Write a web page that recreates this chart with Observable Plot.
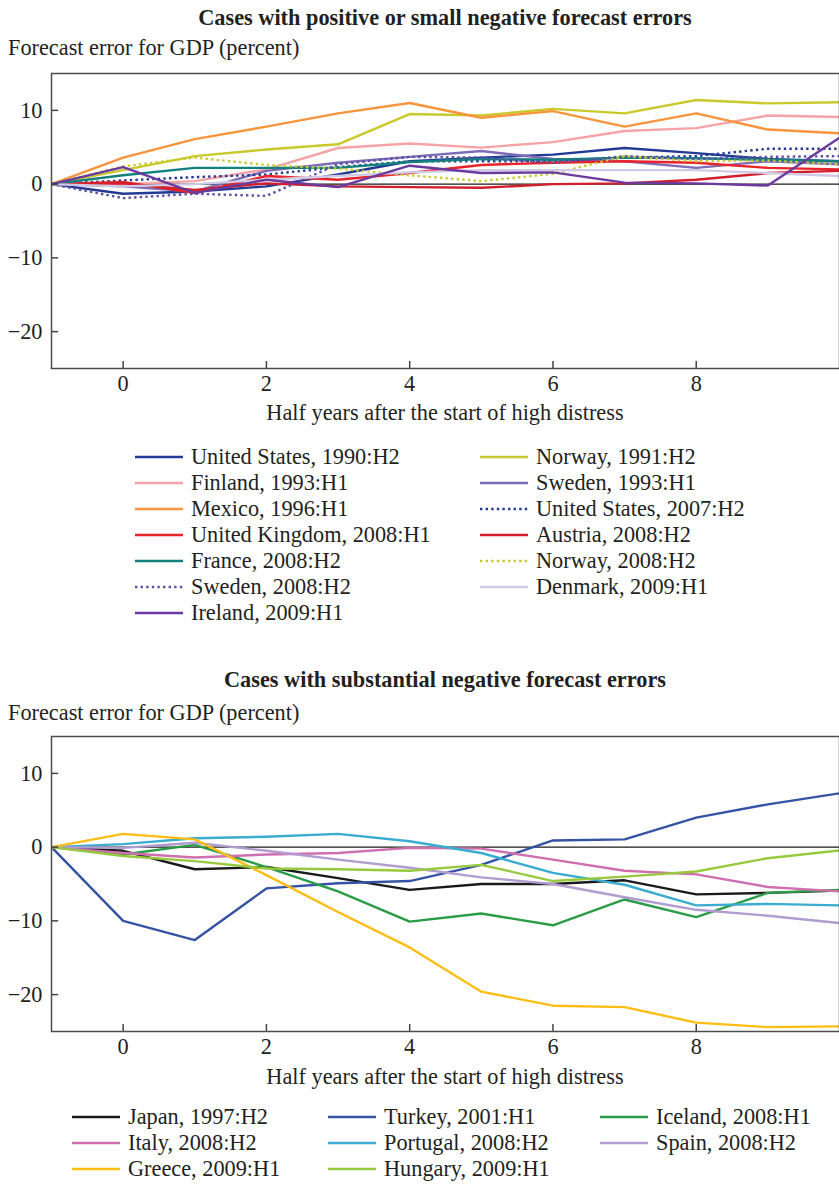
<!DOCTYPE html>
<html><head><meta charset="utf-8">
<script src="https://cdn.jsdelivr.net/npm/d3@7"></script>
<script src="https://cdn.jsdelivr.net/npm/@observablehq/plot@0.6"></script>
<style>
html,body{margin:0;padding:0;background:#fff;overflow:hidden;}
#wrap{position:relative;width:839px;height:1184px;overflow:hidden;font-family:"Liberation Serif","Times New Roman",serif;color:#231f20;}
.t{position:absolute;white-space:nowrap;line-height:26px;height:26px;font-size:22.3px;}
.title{font-weight:bold;text-align:center;left:51px;width:788px;}
.xl{text-align:center;left:51px;width:788px;}
.plot{position:absolute;left:0;max-width:none !important;}
.leg{position:absolute;height:26px;line-height:26px;font-size:22.3px;white-space:nowrap;}
.leg svg{position:absolute;left:0;top:0;}
.leg span{position:absolute;top:0;}
</style></head>
<body><div id="wrap"></div>
<script>
// ---- Data ----
const halfYears = [-1, 0, 1, 2, 3, 4, 5, 6, 7, 8, 9, 10];
const xTicks = [0, 2, 4, 6, 8];
const yTicks = [10, 0, -10, -20];

// Top panel series
const topNames = ["United States, 1990:H2","Norway, 1991:H2","Finland, 1993:H1","Sweden, 1993:H1","Mexico, 1996:H1","United States, 2007:H2","United Kingdom, 2008:H1","Austria, 2008:H2","France, 2008:H2","Norway, 2008:H2","Sweden, 2008:H2","Denmark, 2009:H1","Ireland, 2009:H1"];
const topColors = ["#233a94","#c9c92c","#f5a3a6","#7e6bb5","#f7943c","#233a94","#e8232a","#d21f2b","#14807d","#c9c92c","#5a4ea5","#cfcbe6","#6b3a9e"];
const topDotted = [false,false,false,false,false,true,false,false,false,true,true,false,false];
const usa1990    = [0, -1.3, -1.0, -0.3, 1.3, 3.1, 3.6, 4.0, 4.9, 4.2, 3.4, 3.1];
const norway1991 = [0, 1.9, 3.8, 4.7, 5.4, 9.5, 9.3, 10.2, 9.6, 11.4, 10.95, 11.1];
const finland1993= [0, 0.0, 0.4, 2.0, 4.9, 5.5, 4.95, 5.7, 7.2, 7.6, 9.3, 9.1];
const sweden1993 = [0, -0.3, -1.0, 1.8, 2.9, 3.7, 4.5, 3.4, 3.1, 2.2, 3.1, 2.7];
const mexico1996 = [0, 3.6, 6.1, 7.8, 9.6, 11.0, 9.0, 9.9, 7.8, 9.6, 7.4, 6.9];
const usa2007    = [0, 0.5, 0.95, 1.3, 2.3, 3.1, 3.1, 3.1, 3.6, 3.8, 4.8, 4.8];
const uk2008     = [0, 0.3, -1.2, 1.1, 0.6, 1.5, 2.6, 2.9, 3.1, 2.9, 2.2, 2.0];
const austria2008= [0, 0.1, -0.8, 0.1, -0.3, -0.4, -0.5, 0.0, 0.1, 0.6, 1.5, 1.8];
const france2008 = [0, 1.2, 2.2, 2.2, 2.2, 3.0, 3.4, 3.3, 3.6, 3.5, 3.3, 3.1];
const norway2008 = [0, 2.4, 3.6, 2.6, 2.1, 1.2, 0.4, 1.4, 3.8, 3.1, 3.2, 2.7];
const sweden2008 = [0, -1.9, -1.3, -1.6, 2.7, 3.7, 3.6, 2.9, 3.8, 3.4, 3.7, 3.8];
const denmark2009= [0, -0.3, 0.0, 0.6, 1.1, 1.6, 1.9, 1.9, 1.9, 1.9, 1.5, 1.1];
const ireland2009= [0, 2.3, -1.2, 0.6, -0.4, 2.5, 1.5, 1.6, 0.2, 0.1, -0.2, 6.3];
const topValues = [usa1990, norway1991, finland1993, sweden1993, mexico1996, usa2007, uk2008, austria2008, france2008, norway2008, sweden2008, denmark2009, ireland2009];

// Bottom panel series
const botNames = ["Japan, 1997:H2","Turkey, 2001:H1","Iceland, 2008:H1","Italy, 2008:H2","Portugal, 2008:H2","Spain, 2008:H2","Greece, 2009:H1","Hungary, 2009:H1"];
const botColors = ["#1a1a1a","#3553a4","#2a9c46","#cf6fb0","#3aaccf","#b09dcf","#fdbd12","#97c93d"];
const japan1997   = [0, -0.5, -3.0, -2.7, -4.2, -5.8, -5.0, -5.0, -4.5, -6.4, -6.2, -5.9];
const turkey2001  = [0, -10.0, -12.6, -5.6, -4.9, -4.6, -2.4, 0.9, 1.05, 4.0, 5.8, 7.3];
const iceland2008 = [0, -1.0, 0.3, -2.7, -6.0, -10.1, -9.0, -10.6, -7.1, -9.5, -6.2, -5.8];
const italy2008   = [0, -0.8, -1.4, -1.0, -0.8, -0.1, -0.2, -1.7, -3.2, -3.7, -5.4, -6.0];
const portugal2008= [0, 0.4, 1.2, 1.4, 1.8, 0.8, -0.8, -3.5, -5.1, -7.9, -7.7, -7.9];
const spain2008   = [0, -0.1, 0.6, -0.5, -1.7, -2.8, -4.1, -5.0, -6.8, -8.5, -9.3, -10.3];
const greece2009  = [0, 1.8, 1.05, -3.8, -8.8, -13.6, -19.6, -21.5, -21.7, -23.8, -24.4, -24.3];
const hungary2009 = [0, -1.2, -1.9, -2.9, -3.0, -3.2, -2.4, -4.6, -4.0, -3.3, -1.5, -0.45];
const botValues = [japan1997, turkey2001, iceland2008, italy2008, portugal2008, spain2008, greece2009, hungary2009];

// ---- Drawing ----
const wrap = document.getElementById("wrap");
const FONT = '"Liberation Serif","Times New Roman",serif';
const FS = 22.3;
const fmt = d => d < 0 ? "\u2212" + Math.abs(d) : String(d);

function addText(cls, text, centerY, left) {
  const el = document.createElement("div");
  el.className = "t " + cls;
  el.textContent = text;
  el.style.top = (centerY - 13) + "px";
  if (left != null) el.style.left = left + "px";
  wrap.appendChild(el);
}

function panel(names, values, colors, dotted, top) {
  const marks = [Plot.ruleY([0], {stroke: "#1a1a1a", strokeWidth: 1.2})];
  names.forEach((n, i) => {
    const rows = halfYears.map((x, j) => ({x, y: values[i][j]}));
    marks.push(Plot.line(rows, {
      x: "x", y: "y", stroke: colors[i], strokeWidth: 2.4,
      strokeDasharray: dotted && dotted[i] ? "2.4,3.2" : null,
      strokeLinecap: "butt", strokeLinejoin: "round"
    }));
  });
  marks.push(
    Plot.ruleX(xTicks, {x: d => d, y1: -25, y2: -24.05, stroke: "#444", strokeWidth: 1.5}),
    Plot.ruleY(yTicks, {y: d => d, x1: -1, x2: -0.9, stroke: "#444", strokeWidth: 1.5}),
    Plot.frame({stroke: "#4d4d4d", strokeWidth: 1.5}),
    Plot.axisX(xTicks, {tickSize: 0, tickPadding: 7, label: null, fontSize: FS}),
    Plot.axisY(yTicks, {tickSize: 0, tickPadding: 9, label: null, fontSize: FS, tickFormat: fmt})
  );
  const svg = Plot.plot({
    width: 845, height: 400,
    marginLeft: 51, marginRight: 6, marginTop: 73, marginBottom: 32,
    x: {domain: [-1, 10]}, y: {domain: [-25, 15]},
    style: {fontFamily: FONT, fontSize: FS + "px", color: "#231f20", background: "transparent", overflow: "visible", maxWidth: "none"},
    marks
  });
  svg.classList.add("plot");
  svg.style.top = top + "px";
  svg.style.maxWidth = "none";
  wrap.appendChild(svg);
}

function legendItem(name, color, isDotted, left, centerY) {
  const d = document.createElement("div");
  d.className = "leg";
  d.style.left = left + "px";
  d.style.top = (centerY - 13) + "px";
  const ns = "http://www.w3.org/2000/svg";
  const s = document.createElementNS(ns, "svg");
  s.setAttribute("width", 48); s.setAttribute("height", 26);
  const l = document.createElementNS(ns, "line");
  l.setAttribute("x1", 0); l.setAttribute("x2", 48);
  l.setAttribute("y1", 13); l.setAttribute("y2", 13);
  l.setAttribute("stroke", color); l.setAttribute("stroke-width", 2.4);
  if (isDotted) l.setAttribute("stroke-dasharray", "2.4,3.2");
  s.appendChild(l);
  d.appendChild(s);
  const sp = document.createElement("span");
  sp.textContent = name;
  sp.style.left = "56px";
  d.appendChild(sp);
  wrap.appendChild(d);
}

// Top panel
addText("title", "Cases with positive or small negative forecast errors", 18);
addText("", "Forecast error for GDP (percent)", 48, 8);
panel(topNames, topValues, topColors, topDotted, 0);
addText("xl", "Half years after the start of high distress", 413);
topNames.forEach((n, i) => {
  const col = i % 2, row = Math.floor(i / 2);
  legendItem(n, topColors[i], topDotted[i], col === 0 ? 135 : 480, 457 + row * 26);
});

// Bottom panel
addText("title", "Cases with substantial negative forecast errors", 680);
addText("", "Forecast error for GDP (percent)", 713, 8);
panel(botNames, botValues, botColors, null, 663);
addText("xl", "Half years after the start of high distress", 1077);
const botCols = [72, 328, 600];
botNames.forEach((n, i) => {
  const col = i % 3, row = Math.floor(i / 3);
  legendItem(n, botColors[i], false, botCols[col], 1117 + row * 26);
});
</script></body></html>
